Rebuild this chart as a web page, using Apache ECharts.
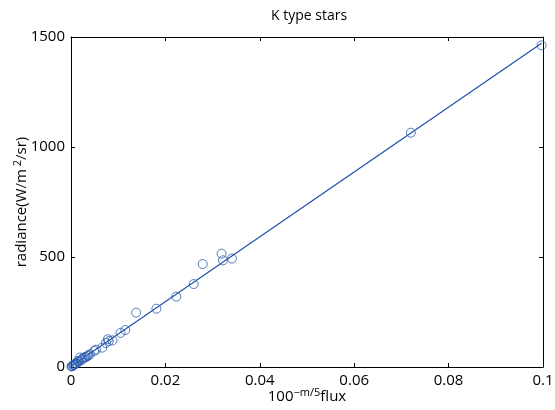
<!DOCTYPE html>
<html>
<head>
<meta charset="utf-8">
<script src="https://cdn.jsdelivr.net/npm/echarts@6/dist/echarts.min.js"></script>
<style>
  html, body { margin: 0; padding: 0; background: #fff; }
  #chart { width: 555px; height: 410px; }
</style>
</head>
<body>
<div id="chart"></div>
<script>
// measured stars (flux, radiance)
var fluxX = [0.0001, 0.0002, 0.0003, 0.0005, 0.0006, 0.0007, 0.0009, 0.0011, 0.0012, 0.0014,
             0.0016, 0.0019, 0.0021, 0.0023, 0.0025, 0.0028, 0.0030, 0.0032, 0.0035, 0.0037,
             0.0040, 0.0049, 0.0053, 0.0066, 0.0074, 0.0078, 0.0080, 0.0088, 0.0105, 0.0115,
             0.0138, 0.0181, 0.0223, 0.0260, 0.0279, 0.0319, 0.0322, 0.0341, 0.0720, 0.0997];
var radianceY = [2, 4, 5, 8, 10, 11, 14, 18, 16, 27,
                 24, 43, 30, 36, 38, 42, 46, 45, 50, 53,
                 58, 73, 79, 88, 109, 126, 118, 121, 155, 168,
                 247, 265, 320, 377, 468, 515, 485, 493, 1065, 1462];
// fitted line ends
var fitX = [0, 0.0997];
var fitY = [2, 1472];
var xTicks = [0, 0.02, 0.04, 0.06, 0.08, 0.1];
var yTicks = [0, 500, 1000, 1500];

var blue = '#2a5cb0';
var font = '"Open Sans", "Noto Sans", sans-serif';

var points = fluxX.map(function (x, i) { return [x, radianceY[i]]; });
var fitLine = fitX.map(function (x, i) { return [x, fitY[i]]; });

var chart = echarts.init(document.getElementById('chart'), null, { renderer: 'canvas' });

var axisBase = {
    type: 'value',
    axisLine: { show: true, onZero: false, lineStyle: { color: '#000', width: 1 } },
    axisTick: { show: true, inside: true, length: 4, lineStyle: { color: '#000' } },
    splitLine: { show: false },
    nameMoveOverlap: false
};
var supStyle = { fontSize: 11, verticalAlign: 'top', padding: [0, 0, 9, 0], color: '#000', fontFamily: font };

chart.setOption({
    animation: false,
    backgroundColor: '#fff',
    textStyle: { fontFamily: font },
    title: {
        text: 'K type stars',
        left: 304,
        top: 4,
        textAlign: 'center',
        textStyle: { fontSize: 14, fontWeight: 'normal', color: '#000', fontFamily: font }
    },
    grid: { left: 71, right: 12, top: 37, bottom: 43, containLabel: false, outerBoundsMode: 'none' },
    xAxis: [
        Object.assign({}, axisBase, {
            min: 0, max: 0.1, interval: 0.02,
            position: 'bottom',
            axisLabel: {
                color: '#000', fontSize: 15, margin: 6, fontFamily: font,
                formatter: function (v) {
                    var t = xTicks.filter(function (k) { return Math.abs(k - v) < 1e-9; });
                    return t.length ? String(+t[0].toFixed(2)) : '';
                }
            },
            name: '100{sup|\u2212m/5}flux',
            nameLocation: 'middle',
            nameGap: 20,
            nameTextStyle: { color: '#000', fontSize: 15, fontFamily: font, rich: { sup: supStyle } }
        }),
        Object.assign({}, axisBase, {
            min: 0, max: 0.1, interval: 0.02,
            position: 'top',
            axisLabel: { show: false }
        })
    ],
    yAxis: [
        Object.assign({}, axisBase, {
            min: 0, max: 1500, interval: 500,
            position: 'left',
            axisLabel: {
                color: '#000', fontSize: 15, margin: 6, fontFamily: font,
                formatter: function (v) { return yTicks.indexOf(v) >= 0 ? String(v) : ''; }
            },
            name: 'radiance(W/m{sup| 2}/sr)',
            nameLocation: 'middle',
            nameGap: 39,
            nameRotate: 90,
            nameTextStyle: { color: '#000', fontSize: 15, fontFamily: font, rich: { sup: supStyle } }
        }),
        Object.assign({}, axisBase, {
            min: 0, max: 1500, interval: 500,
            position: 'right',
            axisLabel: { show: false }
        })
    ],
    series: [
        {
            name: 'stars',
            type: 'scatter',
            data: points,
            symbol: 'circle',
            symbolSize: 9,
            itemStyle: { color: 'rgba(0,0,0,0)', borderColor: blue, borderWidth: 1 },
            z: 3
        },
        {
            name: 'fit',
            type: 'line',
            data: fitLine,
            showSymbol: false,
            symbol: 'none',
            lineStyle: { color: '#1f4fa8', width: 1.2 },
            z: 2
        }
    ]
});
</script>
</body>
</html>
